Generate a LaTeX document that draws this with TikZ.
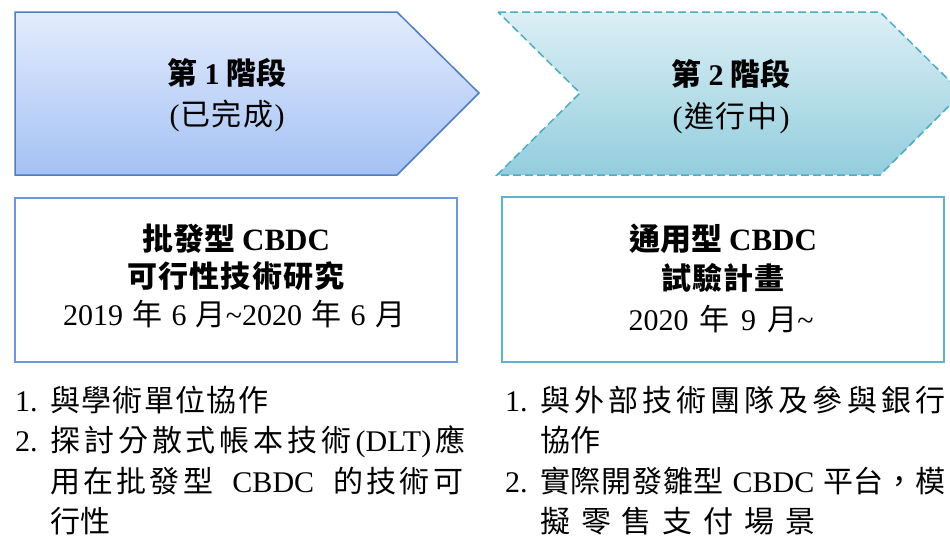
\documentclass[tikz,border=0pt]{standalone}
\usepackage{fontspec}
\setmainfont{Noto Sans CJK TC}
\newfontfamily\lat{Liberation Serif}
\definecolor{aonetop}{HTML}{E3ECFD}
\definecolor{aonebot}{HTML}{A4C1F4}
\definecolor{aoneline}{HTML}{4F7DC3}
\definecolor{atwotop}{HTML}{DCEFF5}
\definecolor{atwobot}{HTML}{93CDDD}
\definecolor{atwoline}{HTML}{4BACC6}
\definecolor{bxoneline}{HTML}{6F96D6}
\definecolor{bxtwoline}{HTML}{5BB4CB}
\def\sprend{sprend@marker}
\newcommand\spr[2]{\makebox[#1][s]{\sprfirst#2\sprend}}
\def\sprfirst#1{{#1}\sprrest}
\def\sprrest#1{\ifx\sprend#1\else\hfil{#1}\expandafter\sprrest\fi}
\begin{document}
\begin{tikzpicture}[x=1pt,y=-1pt,
  txt/.style={inner sep=0pt, font=\fontsize{30}{36}\selectfont},
  ttl/.style={txt, anchor=base},
  lst/.style={txt, anchor=base west},
  boxline/.style={line width=1.8pt}]
\useasboundingbox (0,0) rectangle (950,538);
\clip (0,0) rectangle (950,538);
% stage arrows
\path[top color=aonetop, bottom color=aonebot, draw=aoneline, line width=1.5pt, line join=miter]
  (15,12) -- (397,12) -- (479,93) -- (397,175) -- (15,175) -- cycle;
\path[top color=atwotop, bottom color=atwobot, draw=atwoline, line width=1.5pt, dash pattern=on 8pt off 4pt]
  (498,12) -- (880,12) -- (962,93) -- (880,175) -- (497,175) -- (580,93) -- cycle;
% boxes
\draw[boxline, draw=bxoneline] (15,198) rectangle (457,362);
\draw[boxline, draw=bxtwoline] (502,197) rectangle (944,362);
% titles
\node[ttl] (s1a) at (227,84) {\bfseries 第 {\lat 1} 階段};
\node[ttl] (s1b) at (227,125) {\spr{115pt}{{\lat(}已完成{\lat)}}};
\node[ttl] (s2a) at (731,85) {\bfseries 第 {\lat 2} 階段};
\node[ttl] (s2b) at (731,127) {\spr{117pt}{{\lat(}進行中{\lat)}}};
% box texts
\node[ttl] (b1a) at (236,250) {\bfseries\fontsize{31}{36}\selectfont 批發型 {\lat CBDC}};
\node[ttl] (b1b) at (236,287) {\bfseries\spr{217pt}{可行性技術研究}};
\node[ttl] (b1c) at (234,325) {\spr{342pt}{{\lat 2019}年{\lat 6}{月\lat\textasciitilde 2020}年{\lat 6}月}};
\node[ttl] (b2a) at (723,250) {\bfseries\fontsize{31}{36}\selectfont 通用型 {\lat CBDC}};
\node[ttl] (b2b) at (723,289) {\bfseries\spr{123pt}{試驗計畫}};
\node[ttl] (b2c) at (721,330) {\spr{185pt}{{\lat 2020}年{\lat 9}{月\lat\textasciitilde}}};
% left list
\node[lst] (ln1) at (15,411) {\lat 1.};
\node[lst] (l1) at (50,411) {\spr{218pt}{與學術單位協作}};
\node[lst] (ln2) at (15,451) {\lat 2.};
\node[lst] (l2) at (50,451) {\spr{415pt}{探討分散式帳本技術{\lat(DLT)}應}};
\node[lst] (l3) at (50,492) {\spr{413pt}{用在批發型{\hspace{16pt}\lat CBDC\hspace{16pt}}的技術可}};
\node[lst] (l4) at (50,532) {\spr{60pt}{行性}};
% right list
\node[lst] (rn1) at (505,411) {\lat 1.};
\node[lst] (r1) at (540,411) {\spr{405pt}{與外部技術團隊及參與銀行}};
\node[lst] (r2) at (540,451) {\spr{60pt}{協作}};
\node[lst] (rn2) at (505,492) {\lat 2.};
\node[lst] (r3) at (540,492) {\spr{405pt}{實際開發雛型{\hspace{8pt}\lat CBDC\hspace{8pt}}平台，模}};
\node[lst] (r4) at (540,532) {\spr{275pt}{擬零售支付場景}};
\end{tikzpicture}
\end{document}
